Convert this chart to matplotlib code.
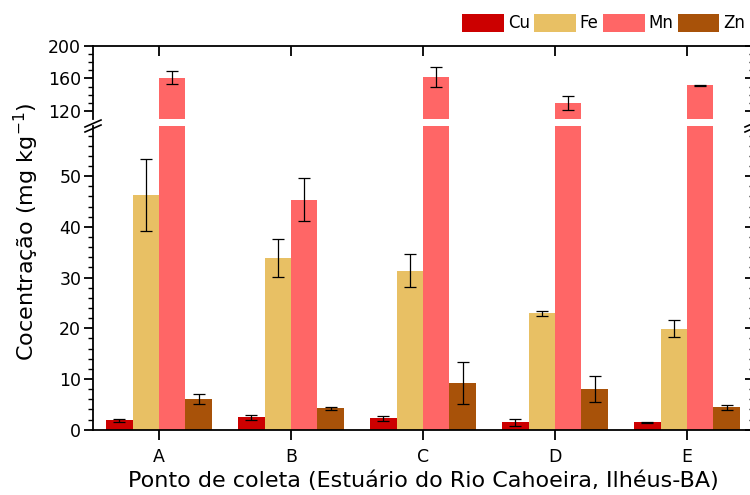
import matplotlib
matplotlib.use("Agg")
import matplotlib.pyplot as plt
from matplotlib.ticker import MultipleLocator, FixedLocator
from matplotlib.lines import Line2D
import numpy as np

plt.rcParams['font.family'] = ['DejaVu Sans']

# ---- data ----
sites = ['A', 'B', 'C', 'D', 'E']
elements = ['Cu', 'Fe', 'Mn', 'Zn']
cu = [1.85, 2.45, 2.3, 1.5, 1.45]
cu_err = [0.25, 0.5, 0.5, 0.7, 0.1]
fe = [46.2, 33.9, 31.4, 23.0, 19.9]
fe_err = [7.1, 3.8, 3.2, 0.5, 1.7]
mn = [160.8, 45.4, 162.0, 129.4, 151.5]
mn_err = [8.0, 4.2, 12.5, 8.6, 0.5]
zn = [6.0, 4.2, 9.2, 8.0, 4.4]
zn_err = [0.95, 0.3, 4.1, 2.6, 0.45]
colors = ['#CC0000', '#E8C064', '#FF6666', '#A85209']

lower_lim = (0, 60)
upper_lim = (110, 200)
lower_major = [0, 10, 20, 30, 40, 50]
upper_major = [120, 160, 200]

series = [cu, fe, mn, zn]
errs = [cu_err, fe_err, mn_err, zn_err]

W, H = 750, 495
fig = plt.figure(figsize=(7.5, 4.95), dpi=100)

def fx(px):
    return px / W

def fy(py):
    return 1 - py / H

left, right = 93, 753
ax_lo = fig.add_axes([fx(left), fy(429.7), fx(right - left), fy(125.5) - fy(429.7)])
ax_hi = fig.add_axes([fx(left), fy(119.2), fx(right - left), fy(45.7) - fy(119.2)])

x = np.arange(1, len(sites) + 1)
width = 0.2
offsets = [-0.3, -0.1, 0.1, 0.3]

for ax in (ax_lo, ax_hi):
    for s, e, c, off, lab in zip(series, errs, colors, offsets, elements):
        ax.bar(x + off, s, width=width, color=c, edgecolor='none', label=lab,
               yerr=e, error_kw=dict(ecolor='black', elinewidth=0.9,
                                     capsize=4.5, capthick=0.9))
    ax.set_xlim(0.5, 5.5)
    for sp in ax.spines.values():
        sp.set_linewidth(1.3)

ax_lo.set_ylim(*lower_lim)
ax_hi.set_ylim(*upper_lim)

# lower axes
ax_lo.spines['top'].set_visible(False)
ax_lo.yaxis.set_major_locator(FixedLocator(lower_major))
ax_lo.yaxis.set_minor_locator(FixedLocator([v for v in range(2, 60, 2) if v % 10]))
ax_lo.set_xticks(x)
ax_lo.set_xticklabels(sites)
ax_lo.tick_params(axis='x', which='major', direction='out', length=7.5, width=1.3,
                  labelsize=12.5, pad=6, top=False)
ax_lo.tick_params(axis='y', which='major', direction='out', length=6.5, width=1.3,
                  labelsize=12.5, pad=2, right=False)
ax_lo.tick_params(axis='y', which='minor', direction='out', length=3.5, width=1.0, right=False)

# right side inward ticks for lower
ax_lo_r = ax_lo.twinx()
ax_lo_r.set_ylim(*lower_lim)
ax_lo_r.yaxis.set_major_locator(FixedLocator(lower_major))
ax_lo_r.yaxis.set_minor_locator(FixedLocator([v for v in range(2, 60, 2) if v % 10]))
ax_lo_r.tick_params(axis='y', which='major', direction='in', length=5.5, width=1.3, labelright=False)
ax_lo_r.tick_params(axis='y', which='minor', direction='in', length=3, width=1.0)
for sp in ax_lo_r.spines.values():
    sp.set_visible(False)

# upper axes
ax_hi.spines['bottom'].set_visible(False)
ax_hi.yaxis.set_major_locator(FixedLocator(upper_major))
ax_hi.yaxis.set_minor_locator(FixedLocator([130, 140, 150, 170, 180, 190]))
ax_hi.set_xticks(x)
ax_hi.tick_params(axis='x', which='major', direction='in', length=7, width=1.3,
                  bottom=False, top=True, labelbottom=False)
ax_hi.tick_params(axis='y', which='major', direction='out', length=6.5, width=1.3,
                  labelsize=12.5, pad=2)
ax_hi.tick_params(axis='y', which='minor', direction='out', length=3.5, width=1.0)

ax_hi_r = ax_hi.twinx()
ax_hi_r.set_ylim(*upper_lim)
ax_hi_r.yaxis.set_major_locator(FixedLocator(upper_major))
ax_hi_r.yaxis.set_minor_locator(FixedLocator([130, 140, 150, 170, 180, 190]))
ax_hi_r.tick_params(axis='y', which='major', direction='in', length=5.5, width=1.3, labelright=False)
ax_hi_r.tick_params(axis='y', which='minor', direction='in', length=3, width=1.0)
for sp in ax_hi_r.spines.values():
    sp.set_visible(False)

# break marks
for xc in (left, right):
    for dy in (0, 5):
        fig.add_artist(Line2D([fx(xc - 8), fx(xc + 8)], [fy(127 + dy), fy(120 + dy)],
                              color='black', lw=1.2, transform=fig.transFigure))

# labels
fig.text(fx(26), fy(232), 'Cocentração (mg kg$^{-1}$)', rotation=90,
         ha='center', va='center', fontsize=16)
fig.text(fx(423), fy(481), 'Ponto de coleta (Estuário do Rio Cahoeira, Ilhéus-BA)',
         ha='center', va='center', fontsize=16)

# legend
handles, labels = ax_lo.get_legend_handles_labels()
fig.legend(handles, labels, loc='center left', bbox_to_anchor=(fx(462), fy(23)),
           ncol=4, frameon=False, fontsize=12, handlelength=2.5, handleheight=1.3,
           handletextpad=0.25, columnspacing=0.25, borderpad=0, borderaxespad=0)

fig.savefig('out.png', dpi=100)
